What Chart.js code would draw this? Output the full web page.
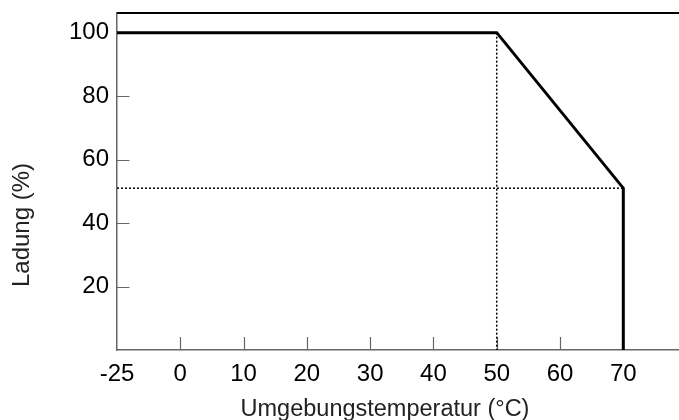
<!DOCTYPE html>
<html>
<head>
<meta charset="utf-8">
<script src="https://cdn.jsdelivr.net/npm/chart.js@4"></script>
<style>
  html, body { margin: 0; padding: 0; background: #fff; }
  #wrap { width: 679px; height: 420px; }
</style>
</head>
<body>
<div id="wrap"><canvas id="myChart"></canvas></div>
<script>
// datos de la curva (temperatura °C, carga %)
const temps = [-25, 50, 70, 70]
const carga = [100, 100, 51, 0]
// lineas de referencia punteadas
const refVertTemps = [50, 50]
const refVertCarga = [100, 0]
const refHorTemps = [-25, 70]
const refHorCarga = [51, 51]
// ticks
const xTicks = [-25, 0, 10, 20, 30, 40, 50, 60, 70]
const yTicks = [20, 40, 60, 80, 100]
const xTitle = 'Umgebungstemperatur (°C)'
const yTitle = 'Ladung (%)'

// eje con corte: de -25 a 0 comprimido
const BREAK = 0.4
const toPos = t => t < 0 ? t * BREAK : t
const fromPos = p => p < 0 ? Math.round(p / BREAK) : p

const pts = (xs, ys) => xs.map((x, i) => ({ x: toPos(x), y: ys[i] }))

const FONT = 'Liberation Sans, Arial, Helvetica, sans-serif'

// ticks hacia adentro (debajo de las lineas), linea superior y titulos
const extras = {
  id: 'extras',
  beforeDatasetsDraw(chart) {
    const ctx = chart.ctx
    const a = chart.chartArea
    const xs = chart.scales.x, ys = chart.scales.y
    ctx.save()
    ctx.strokeStyle = '#666'
    ctx.lineWidth = 1.2
    ctx.beginPath()
    xTicks.forEach(t => {
      if (t <= -25) return
      const px = Math.round(xs.getPixelForValue(toPos(t))) + 0.5
      ctx.moveTo(px, a.bottom)
      ctx.lineTo(px, a.bottom - 13)
    })
    yTicks.forEach(v => {
      const py = Math.round(ys.getPixelForValue(v)) + 0.5
      ctx.moveTo(a.left, py)
      ctx.lineTo(a.left + 12.5, py)
    })
    ctx.stroke()
    ctx.restore()
  },
  afterDraw(chart) {
    const ctx = chart.ctx
    const a = chart.chartArea
    ctx.save()
    ctx.strokeStyle = '#000'
    ctx.lineWidth = 2
    ctx.beginPath()
    ctx.moveTo(a.left, a.top)
    ctx.lineTo(a.right, a.top)
    ctx.stroke()
    ctx.fillStyle = '#222'
    ctx.font = '23.5px ' + FONT
    ctx.textAlign = 'center'
    ctx.textBaseline = 'alphabetic'
    ctx.fillText(xTitle, 385, 416)
    ctx.font = '24px ' + FONT
    ctx.textBaseline = 'middle'
    ctx.translate(22, 225)
    ctx.rotate(-Math.PI / 2)
    ctx.fillText(yTitle, 0, 0)
    ctx.restore()
  }
}

const config = {
  type: 'scatter',
  data: {
    datasets: [
      {
        data: pts(refVertTemps, refVertCarga),
        showLine: true, borderColor: '#000', borderWidth: 1.5,
        borderDash: [2, 2], pointRadius: 0
      },
      {
        data: pts(refHorTemps, refHorCarga),
        showLine: true, borderColor: '#000', borderWidth: 1.5,
        borderDash: [2, 2], pointRadius: 0
      },
      {
        data: pts(temps, carga),
        showLine: true, borderColor: '#000', borderWidth: 3,
        pointRadius: 0, borderJoinStyle: 'miter'
      }
    ]
  },
  options: {
    responsive: true,
    maintainAspectRatio: false,
    animation: false,
    layout: { padding: { top: 13, right: 0, left: 0, bottom: 0 } },
    plugins: { legend: { display: false }, tooltip: { enabled: false } },
    scales: {
      x: {
        type: 'linear',
        min: toPos(-25),
        max: 78.8,
        afterBuildTicks: s => { s.ticks = xTicks.map(t => ({ value: toPos(t) })) },
        afterFit: s => { s.height = 70; s.paddingLeft = 0; s.paddingRight = 0 },
        grid: { display: false, drawTicks: false },
        border: { color: '#666', width: 1.5 },
        ticks: {
          color: '#000', padding: 10, maxRotation: 0, autoSkip: false,
          font: { family: FONT, size: 24 },
          callback: v => String(fromPos(v))
        }
      },
      y: {
        min: 0,
        max: 106.2,
        afterBuildTicks: s => { s.ticks = yTicks.map(v => ({ value: v })) },
        afterFit: s => { s.width = 117; s.paddingTop = 0; s.paddingBottom = 0 },
        grid: { display: false, drawTicks: false },
        border: { color: '#666', width: 1.5 },
        ticks: {
          color: '#000', padding: 8,
          font: { family: FONT, size: 24 }
        }
      }
    }
  },
  plugins: [extras]
}

new Chart(document.getElementById('myChart'), config)
</script>
</body>
</html>
